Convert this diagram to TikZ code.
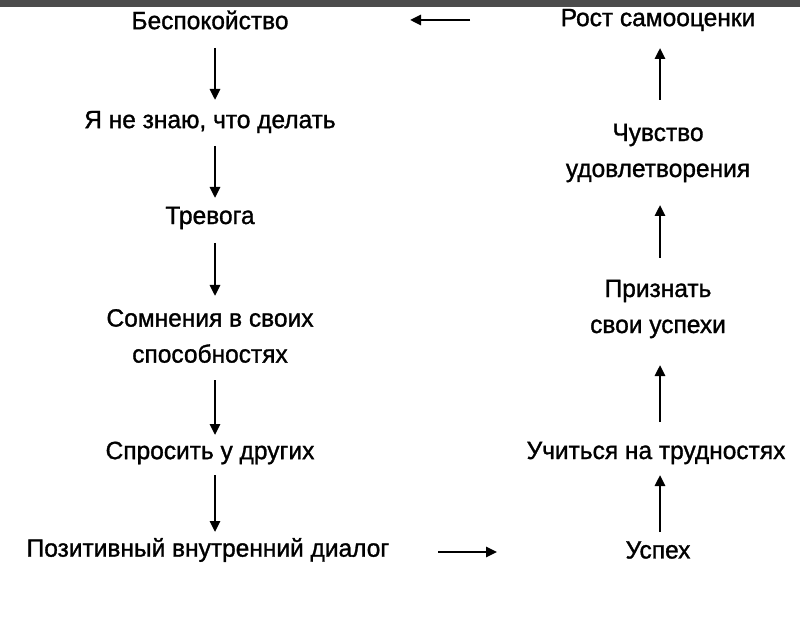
\documentclass[tikz,border=0pt]{standalone}
\usepackage{fontspec}
\setmainfont{Liberation Sans}[FakeStretch=0.98,FakeBold=1.2]
\usetikzlibrary{arrows.meta}
\begin{document}
\begin{tikzpicture}[x=1pt,y=-1pt,
  lbl/.style={font=\fontsize{25}{36}\selectfont, align=center, inner sep=0pt},
  arr/.style={line width=2.6pt, -{Triangle[length=11pt,width=10pt]}}]
\useasboundingbox (0,0) rectangle (800,617);
\fill[fill=black!70] (0,0) rectangle (800,7);
\node[lbl] (a1) at (210,20) {Беспокойство};
\node[lbl] (a2) at (210,122) {Я не знаю, что делать};
\node[lbl] (a3) at (210,218) {Тревога};
\node[lbl] (a4) at (210,336) {Сомнения в своих\\способностях};
\node[lbl] (a5) at (210,453) {Спросить у других};
\node[lbl] (a6) at (208,550) {Позитивный внутренний диалог};
\node[lbl] (b1) at (658,20) {Рост самооценки};
\node[lbl] (b2) at (658,153) {Чувство\\удовлетворения};
\node[lbl] (b3) at (658,309) {Признать\\свои успехи};
\node[lbl] (b4) at (656,453) {Учиться на трудностях};
\node[lbl] (b5) at (658,550) {Успех};
\coordinate (t1) at (470,20); \coordinate (t2) at (410,20);
\coordinate (u1) at (438,552); \coordinate (u2) at (497,552);
\draw[arr] (215,48) -- (215,100);
\draw[arr] (215,146) -- (215,198);
\draw[arr] (215,243) -- (215,296);
\draw[arr] (215,380) -- (215,435);
\draw[arr] (215,475) -- (215,532);
\draw[arr] (660,100) -- (660,48);
\draw[arr] (660,258) -- (660,205);
\draw[arr] (660,422) -- (660,365);
\draw[arr] (660,532) -- (660,475);
\draw[arr] (t1) -- (t2);
\draw[arr] (u1) -- (u2);
\end{tikzpicture}
\end{document}
